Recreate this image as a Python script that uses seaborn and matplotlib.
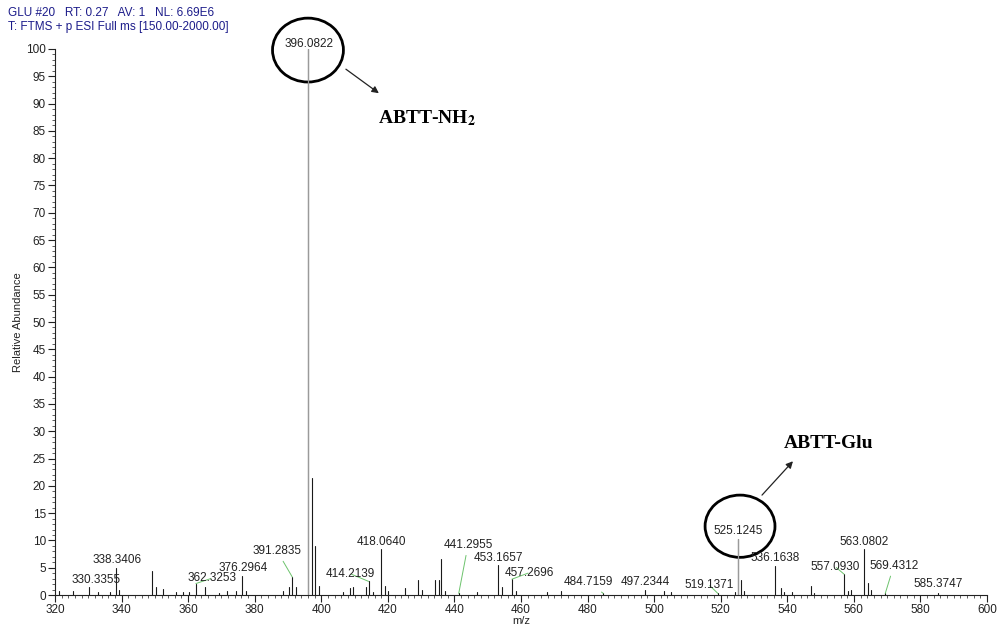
import numpy as np
import pandas as pd
import matplotlib
matplotlib.use("Agg")
import matplotlib.pyplot as plt
from matplotlib.patches import Ellipse
from matplotlib.ticker import MultipleLocator
import seaborn as sns

# peak list (m/z, relative abundance)
peak_mz = [321.3, 325.3, 330.3355, 333.0, 336.5, 338.3406, 339.3, 349.1, 350.3, 352.3,
           356.3, 358.5, 360.3, 362.3253, 365.2, 369.3, 371.6, 374.3, 376.2964, 377.4,
           388.6, 390.3, 391.2835, 392.3, 396.0822, 397.08, 398.08, 399.2, 406.4, 408.6,
           409.4, 413.3, 414.2139, 415.4, 418.0640, 419.1, 420.1, 425.2, 429.2, 430.4,
           434.3, 435.3, 436.1, 437.1, 441.2955, 446.9, 453.1657, 454.2, 457.2696, 458.4,
           467.7, 472.0, 484.7159, 497.2344, 503.0, 505.0, 519.1371, 524.3, 525.1245, 526.1,
           527.1, 536.1638, 538.2, 539.1, 541.3, 547.1, 548.1, 557.0930, 558.1, 559.1,
           563.0802, 564.1, 565.1, 569.4312, 585.3747]
peak_ab = [0.8, 0.7, 1.5, 0.5, 0.6, 4.9, 1.0, 4.4, 1.4, 1.1,
           0.5, 0.5, 0.6, 2.1, 1.5, 0.4, 0.7, 0.8, 3.5, 0.8,
           0.8, 1.4, 3.3, 1.5, 100.0, 21.4, 9.0, 1.7, 0.6, 1.2,
           1.5, 1.5, 2.5, 0.6, 8.4, 1.6, 0.8, 1.2, 2.8, 1.0,
           2.8, 2.8, 6.6, 0.8, 0.3, 0.5, 5.5, 1.4, 2.9, 0.7,
           0.5, 0.8, 0.3, 1.0, 0.8, 0.5, 0.3, 0.5, 10.2, 2.7,
           0.8, 5.3, 1.3, 0.6, 0.5, 1.6, 0.4, 3.8, 0.8, 1.0,
           8.4, 2.2, 1.0, 0.3, 0.4]

# labelled peaks and where their labels sit
label_mz = [330.3355, 338.3406, 362.3253, 376.2964, 391.2835, 396.0822, 414.2139, 418.0640,
            441.2955, 453.1657, 457.2696, 484.7159, 497.2344, 519.1371, 525.1245, 536.1638,
            557.0930, 563.0802, 569.4312, 585.3747]
label_x = [332.3, 338.6, 367.2, 376.4, 386.7, 396.2, 408.7, 418.0,
           444.1, 453.1, 462.5, 480.2, 497.3, 516.4, 525.2, 536.2,
           554.4, 563.1, 572.0, 585.4]
label_y = [2.7, 6.4, 3.1, 5.0, 8.1, 101.0, 3.9, 9.8,
           9.2, 6.8, 4.1, 2.4, 2.4, 1.9, 11.7, 6.8,
           5.2, 9.8, 5.4, 2.0]
leader = [False, False, True, False, True, False, True, False,
          True, False, True, True, False, True, False, False,
          True, False, True, False]

x_ticks = list(range(320, 601, 20))
y_ticks = list(range(0, 101, 5))

sns.set_style("ticks")
plt.rcParams['font.family'] = ['Liberation Sans', 'DejaVu Sans']
plt.rcParams['mathtext.fontset'] = 'stix'

# each peak as a 2-point stick
rows = []
for i, (m, a) in enumerate(zip(peak_mz, peak_ab)):
    rows.append({"peak": i, "mz": m, "ab": 0.0})
    rows.append({"peak": i, "mz": m, "ab": a})
df = pd.DataFrame(rows)

fig = plt.figure(figsize=(9.98, 6.28), dpi=100)
ax = fig.add_axes([0.0551, 0.0525, 0.9339, 0.8695])

sns.lineplot(data=df, x="mz", y="ab", units="peak", estimator=None, sort=False,
             color="#1a1a1a", lw=0.8, ax=ax)
# the two highlighted peaks are drawn lighter in the original
for m in (396.0822, 525.1245):
    sub = df[np.isclose(df["mz"], m)]
    ax.plot(sub["mz"], sub["ab"], color="#9a9a9a", lw=0.9)

green = "#6cc36c"
for m, lx, ly, ld in zip(label_mz, label_x, label_y, leader):
    txt = f"{m:.4f}"
    if ld:
        h = peak_ab[peak_mz.index(m)]
        ax.annotate(txt, xy=(m, h), xytext=(lx, ly), ha="center", va="center",
                    fontsize=8.5, color="#222222", annotation_clip=False,
                    arrowprops=dict(arrowstyle="-", color=green, lw=0.7,
                                    shrinkA=1, shrinkB=0))
    else:
        ax.text(lx, ly, txt, ha="center", va="center", fontsize=8.5,
                color="#222222", clip_on=False)

# circles and arrows
ax.add_patch(Ellipse((396.0, 99.8), 21.3, 11.7, fill=False, lw=2.0,
                     ec="black", clip_on=False))
ax.add_patch(Ellipse((525.8, 12.6), 21.0, 11.4, fill=False, lw=2.0,
                     ec="black", clip_on=False))
ax.annotate("", xy=(417.3, 91.9), xytext=(407.4, 96.3), annotation_clip=False,
            arrowprops=dict(arrowstyle="-|>", color="#222222", lw=0.9,
                            mutation_scale=10, shrinkA=0, shrinkB=0))
ax.annotate("", xy=(541.7, 24.5), xytext=(532.4, 18.3), annotation_clip=False,
            arrowprops=dict(arrowstyle="-|>", color="#222222", lw=0.9,
                            mutation_scale=10, shrinkA=0, shrinkB=0))
ax.text(431.6, 87.4, r"ABTT-NH$_{\mathbf{2}}$", ha="center", va="center",
        fontsize=14, fontweight="bold", family="Liberation Serif", color="black")
ax.text(552.5, 27.8, "ABTT-Glu", ha="center", va="center",
        fontsize=14, fontweight="bold", family="Liberation Serif", color="black")

ax.set_xlim(320, 600)
ax.set_ylim(0, 100)
ax.set_xticks(x_ticks)
ax.set_yticks(y_ticks)
ax.xaxis.set_minor_locator(MultipleLocator(2))
ax.yaxis.set_minor_locator(MultipleLocator(1))
ax.tick_params(axis="both", which="major", length=5, width=0.8, labelsize=8.5,
               colors="#222222", pad=1.5)
ax.tick_params(axis="both", which="minor", length=2.5, width=0.6, colors="#444444")
ax.set_xlabel("m/z", fontsize=8, labelpad=0, color="#222222")
ax.set_ylabel("Relative Abundance", fontsize=8, labelpad=2, color="#222222")
sns.despine(ax=ax)
for s in ("left", "bottom"):
    ax.spines[s].set_linewidth(0.8)
    ax.spines[s].set_color("#222222")

fig.text(0.008, 0.979, "GLU #20   RT: 0.27   AV: 1   NL: 6.69E6", fontsize=8.5,
         color="#1c1c8a", va="center")
fig.text(0.008, 0.957, "T: FTMS + p ESI Full ms [150.00-2000.00]", fontsize=8.5,
         color="#1c1c8a", va="center")

fig.savefig("out.png", dpi=100)
